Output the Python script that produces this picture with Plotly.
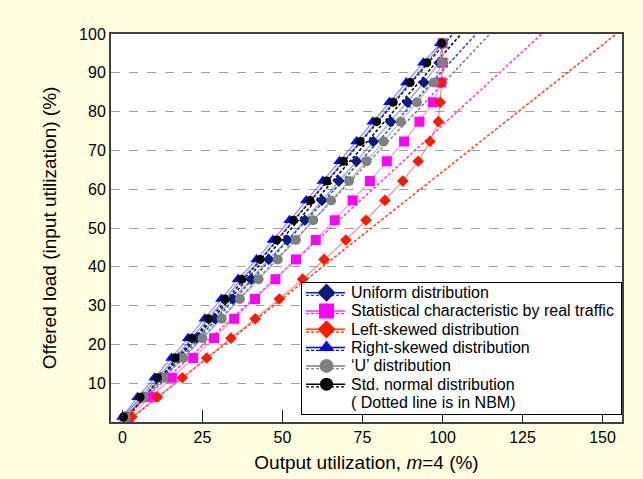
import plotly.graph_objects as go

# Offered load (y) shared by all series
load = [1.3, 6.4, 11.4, 16.5, 21.6, 26.6, 31.7, 36.8, 41.9, 46.9,
        52.0, 57.1, 62.1, 67.2, 72.3, 77.4, 82.4, 87.5, 92.6, 97.6]

# Output utilization (x) per series
uniform = [0.8, 6.3, 12.0, 17.6, 23.2, 28.9, 34.5, 40.2, 45.7, 51.5,
           57.0, 62.3, 67.6, 73.1, 78.4, 83.8, 89.1, 94.2, 99.0, 100.0]
statistical = [2.0, 8.9, 15.4, 22.1, 28.6, 34.9, 41.4, 47.8, 54.2, 60.4,
               66.3, 71.9, 77.3, 82.6, 88.0, 92.8, 97.0, 99.6, 100.0, 100.0]
left_skewed = [2.9, 10.9, 18.7, 26.3, 33.9, 41.5, 49.0, 56.3, 63.0, 69.8,
               76.1, 82.0, 87.6, 92.4, 96.1, 98.7, 99.3, 99.7, 100.0, 100.0]
right_skewed = [0.0, 4.7, 10.0, 15.3, 20.5, 25.7, 30.9, 36.1, 41.9, 47.0,
                52.2, 57.4, 62.6, 67.8, 73.1, 78.2, 83.4, 88.7, 94.0, 99.3]
u_dist = [1.0, 6.6, 12.8, 19.0, 25.0, 31.0, 36.7, 42.5, 48.5, 54.2,
          59.6, 65.2, 70.8, 76.3, 81.6, 87.0, 92.0, 97.3, 99.8, 100.0]
std_normal = [0.3, 5.5, 10.9, 16.4, 21.6, 26.8, 32.0, 37.2, 43.0, 48.2,
              53.4, 58.6, 63.8, 69.0, 74.3, 79.4, 84.6, 89.9, 95.1, 99.8]

names = ["Uniform distribution", "Statistical characteristic by real traffic",
         "Left-skewed distribution", "Right-skewed distribution",
         "\u2018U\u2019 distribution", "Std. normal distribution"]
note = "( Dotted line is in NBM)"

# NBM (dotted) lines: output utilization at load 0 and at load 100
nbm_load = [0, 100]
nbm_uniform = [0.0, 110.5]
nbm_statistical = [-1.0, 131.0]
nbm_left = [1.3, 154.3]
nbm_right = [0.0, 103.2]
nbm_u = [0.0, 114.8]
nbm_std = [0.0, 105.8]

x_ticks = [0, 25, 50, 75, 100, 125, 150]
y_ticks = [10, 20, 30, 40, 50, 60, 70, 80, 90, 100]

# (values, nbm, marker colour, connecting line colour, dotted colour, symbol, size, legend size)
series = [
    (uniform, nbm_uniform, "#0a1a80", "rgba(60,80,170,0.55)", "#1f4fd0", "diamond", 9, 14),
    (statistical, nbm_statistical, "#ff00ff", "rgba(240,120,240,0.8)", "#ff33dd", "square", 10, 15),
    (left_skewed, nbm_left, "#ff1a00", "rgba(230,110,110,0.75)", "#ff4010", "diamond", 9, 14),
    (right_skewed, nbm_right, "#0000ff", "rgba(60,60,255,0.6)", "#0000ff", "triangle-up", 11, 14),
    (u_dist, nbm_u, "#808080", "rgba(150,150,150,0.7)", "#808080", "circle", 10, 14),
    (std_normal, nbm_std, "#000000", "rgba(60,60,60,0.6)", "#000000", "circle", 9, 13),
]
legend_line = ["#0a2a9a", "#ff33dd", "#ff4010", "#0000ff", "#808080", "#000000"]

fig = go.Figure()

# dotted NBM lines first (behind markers)
for s in series:
    fig.add_trace(go.Scatter(
        x=s[1], y=nbm_load, mode="lines", showlegend=False, hoverinfo="skip",
        line=dict(color=s[4], width=1.5, dash="3px,2px")))

for s, nm in zip(series, names):
    fig.add_trace(go.Scatter(
        x=s[0], y=load, mode="lines+markers", name=nm, showlegend=False,
        line=dict(color=s[3], width=1.2),
        marker=dict(symbol=s[5], size=s[6], color=s[2])))

# ---- hand-built legend in its own small subplot (pixel units) ----
LW, LH = 319.0, 130.4
row_y = [9.4 + 18.3 * i for i in range(7)]
fig.add_trace(go.Scatter(x=[0, LW, LW, 0, 0], y=[0, 0, LH, LH, 0], xaxis="x2", yaxis="y2",
                         mode="lines", fill="toself", fillcolor="#FFFFFF",
                         line=dict(width=0, color="#FFFFFF"), showlegend=False, hoverinfo="skip"))
for i, s in enumerate(series):
    yc = row_y[i]
    fig.add_trace(go.Scatter(x=[4, 43], y=[yc + 2.7, yc + 2.7], xaxis="x2", yaxis="y2",
                             mode="lines", line=dict(color=s[4], width=1.3, dash="3px,2px"),
                             showlegend=False, hoverinfo="skip"))
    fig.add_trace(go.Scatter(x=[4, 43], y=[yc, yc], xaxis="x2", yaxis="y2",
                             mode="lines", line=dict(color=legend_line[i], width=1.5),
                             showlegend=False, hoverinfo="skip"))
    fig.add_trace(go.Scatter(x=[24.5], y=[yc], xaxis="x2", yaxis="y2", mode="markers",
                             marker=dict(symbol=s[5], size=s[7], color=s[2]),
                             showlegend=False, hoverinfo="skip"))
for i, txt in enumerate(names + [note]):
    fig.add_annotation(x=47, y=row_y[i], xref="x2", yref="y2", text=txt,
                       showarrow=False, xanchor="left", yanchor="middle",
                       font=dict(size=16, color="#000"))

fig.update_layout(
    width=643, height=479,
    paper_bgcolor="#FFFEE0", plot_bgcolor="#FFFFFF",
    margin=dict(l=111, r=21, t=34, b=57),
    font=dict(family="Liberation Sans, Arial, sans-serif", size=16, color="#000"),
    showlegend=False,
    xaxis=dict(range=[-3.6, 156.1], tickvals=x_ticks, ticktext=[str(v) for v in x_ticks],
               ticks="inside", ticklen=12, tickcolor="#202020", showgrid=False,
               showline=True, mirror=True, linecolor="#404040", linewidth=2,
               zeroline=False, automargin=False,
               title=dict(text="Output utilization, <i>m</i>=4 (%)", standoff=10)),
    yaxis=dict(range=[0, 100], tickvals=y_ticks, ticktext=[str(v) for v in y_ticks],
               ticks="", showgrid=True, gridcolor="#A0A0A0", griddash="dash", gridwidth=1,
               showline=True, mirror=True, linecolor="#404040", linewidth=2,
               zeroline=False, automargin=False,
               title=dict(text="Offered load (input utilization) (%)", standoff=17)),
    xaxis2=dict(domain=[0.3738, 0.998], anchor="y2", range=[0, LW], visible=True,
                showticklabels=False, ticks="", showgrid=False, zeroline=False,
                showline=True, mirror=True, linecolor="#000000", linewidth=1,
                fixedrange=True),
    yaxis2=dict(domain=[0.0214, 0.3575], anchor="x2", range=[LH, 0],
                showticklabels=False, ticks="", showgrid=False, zeroline=False,
                showline=True, mirror=True, linecolor="#000000", linewidth=1,
                fixedrange=True),
)

fig.write_html("out.html", config={"displayModeBar": False},
               post_script="document.body.style.margin='0';")
